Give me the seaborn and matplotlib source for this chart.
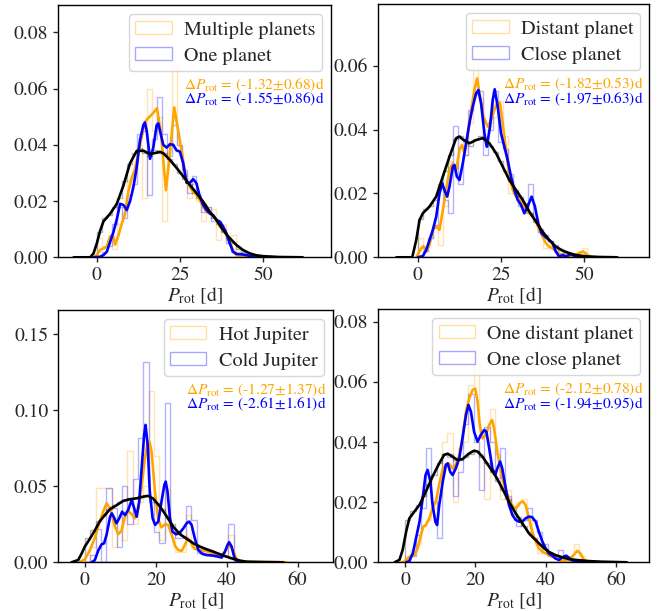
import numpy as np
import pandas as pd
import matplotlib
matplotlib.use("Agg")
import matplotlib.pyplot as plt
from matplotlib.patches import Patch
from matplotlib.colors import to_rgba
import seaborn as sns

# ---------------- data ----------------
edges_sub = np.arange(0, 51.01, 1.5)    # 34 bins for the sub-samples
edges_jup = np.arange(0, 45.01, 1.5)    # 30 bins for the Jupiter sub-samples
edges_all = np.arange(0, 60.01, 1.5)    # 40 bins for the comparison sample

# Panel 1: Multiple planets (orange) vs One planet (blue)
p1_orange_hist = [0.007, 0.004, 0.006, 0.003, 0.012, 0.016, 0.027, 0.030, 0.040, 0.021,
                  0.060, 0.045, 0.050, 0.013, 0.040, 0.068, 0.040, 0.030, 0.021, 0.026,
                  0.020, 0.013, 0.018, 0.017, 0.006, 0.012, 0.006, 0.008, 0.002, 0,
                  0, 0, 0, 0]
p1_blue_hist = [0, 0.002, 0.004, 0.012, 0.018, 0.014, 0.022, 0.026, 0.044, 0.045,
                0.022, 0.042, 0.057, 0.044, 0.036, 0.047, 0.040, 0.031, 0.023, 0.029,
                0.022, 0.016, 0.018, 0.013, 0.013, 0.010, 0.005, 0.002, 0.001, 0.001,
                0, 0, 0, 0]
p1_gray_hist = [0.009, 0.014, 0.015, 0.018, 0.021, 0.027, 0.033, 0.037, 0.039, 0.037,
                0.036, 0.038, 0.037, 0.037, 0.035, 0.033, 0.030, 0.028, 0.026, 0.023,
                0.021, 0.019, 0.016, 0.014, 0.012, 0.009, 0.007, 0.005, 0.003, 0.002,
                0.0015, 0.001, 0.0007, 0.0005, 0.0003, 0.0002, 0.0001, 0.0001, 0, 0.0001]
p1_orange_kde_x = [-1, 0, 1, 2, 3, 4, 4.8, 5.5, 6.5, 7.5, 8.4, 9.4, 10.4, 11.4, 12.4, 13.4, 14.4,
                   15.4, 16.9, 18.1, 19.3, 20.8, 21.8, 23.3, 24.8, 25.8, 27, 28, 29, 30, 31,
                   32, 33, 34, 35, 36, 37, 38, 39, 40, 41, 42, 43, 45, 50, 55]
p1_orange_kde_y = [0, 0.0008, 0.0026, 0.0032, 0.0038, 0.0075, 0.0079, 0.0045, 0.0078, 0.012,
                   0.015, 0.0228, 0.028, 0.031, 0.0364, 0.0423, 0.048, 0.0494, 0.0512, 0.053,
                   0.0441, 0.0239, 0.0346, 0.0533, 0.0429, 0.0358, 0.0269, 0.0251, 0.0233,
                   0.0222, 0.0204, 0.018, 0.0162, 0.0156, 0.0145, 0.0133, 0.011, 0.0097,
                   0.008, 0.0056, 0.0026, 0.0008, 0.0002, 0.0001, 0, 0]
p1_blue_kde_x = [-1, 1, 2, 3, 4, 5, 6, 7, 8, 9, 10, 11, 12, 13, 14, 14.5, 15, 16, 17, 18, 18.5,
                 19, 20, 21, 22, 23, 24, 25, 26, 27, 28, 29, 30, 31, 32, 33, 34, 35, 36, 37,
                 38, 39, 40, 41, 42, 44, 46, 48, 50]
p1_blue_kde_y = [0, 0.0002, 0.0008, 0.002, 0.0055, 0.009, 0.0135, 0.019, 0.0186, 0.0168, 0.020,
                 0.025, 0.032, 0.0417, 0.047, 0.0479, 0.045, 0.035, 0.039, 0.047, 0.0476,
                 0.045, 0.040, 0.039, 0.0402, 0.040, 0.038, 0.0376, 0.0334, 0.0265, 0.0265,
                 0.0278, 0.0263, 0.0216, 0.0186, 0.0168, 0.0156, 0.015, 0.0133, 0.0127,
                 0.011, 0.0085, 0.005, 0.002, 0.0012, 0.001, 0.0005, 0.0001, 0]
p1_black_kde_x = [-7, -2, -1, 0, 1, 2, 4, 6, 8, 10, 12, 14, 16, 18, 19, 20, 22, 24, 26, 28, 30,
                  32, 34, 36, 38, 40, 42, 44, 46, 48, 50, 55, 62]
p1_black_kde_y = [0, 0, 0.0014, 0.005, 0.0095, 0.0128, 0.0155, 0.019, 0.0255, 0.0335, 0.0378,
                  0.0379, 0.0367, 0.0372, 0.0375, 0.037, 0.0346, 0.0318, 0.0288, 0.0257,
                  0.0228, 0.0198, 0.0162, 0.0133, 0.0097, 0.0068, 0.0044, 0.0026, 0.0014,
                  0.0007, 0.0004, 0.0001, 0]

# Panel 2: Distant planet (orange) vs Close planet (blue)
p2_orange_hist = [0.006, 0.002, 0.006, 0.010, 0.004, 0.016, 0.030, 0.028, 0.035, 0.032,
                  0.042, 0.062, 0.050, 0.040, 0.042, 0.044, 0.049, 0.038, 0.020, 0.020,
                  0.018, 0.016, 0.014, 0.012, 0.008, 0.003, 0.004, 0.003, 0.002, 0,
                  0, 0, 0.002, 0.003]
p2_blue_hist = [0, 0.002, 0.006, 0.010, 0.022, 0.018, 0.014, 0.041, 0.023, 0.032,
                0.046, 0.051, 0.052, 0.032, 0.040, 0.052, 0.036, 0.034, 0.026, 0.020,
                0.016, 0.014, 0.023, 0.012, 0.008, 0.006, 0.005, 0.004, 0, 0.001,
                0.001, 0, 0, 0]
p2_gray_hist = [0.012, 0.015, 0.016, 0.018, 0.023, 0.027, 0.032, 0.037, 0.038, 0.036,
                0.035, 0.037, 0.038, 0.037, 0.035, 0.033, 0.030, 0.027, 0.024, 0.021,
                0.019, 0.017, 0.014, 0.011, 0.009, 0.007, 0.005, 0.0035, 0.0025, 0.0015,
                0.0012, 0.0008, 0.0005, 0.0004, 0.0002, 0.0001, 0.0001, 0, 0, 0]
p2_orange_kde_x = [-0.5, 1, 1.7, 2.5, 3.5, 4.5, 5.5, 6.5, 7.5, 8.5, 9.5, 10.5, 11.5, 12.5, 13.3,
                   14, 15, 16, 17, 17.8, 18.7, 19.7, 21, 22, 23, 24, 24.7, 25.5, 26.5, 27.5,
                   28.5, 29.5, 30.5, 31.5, 32.5, 33.5, 34.5, 35.5, 36.5, 37.5, 38.5, 39.5,
                   40.5, 41.5, 42.5, 44.5, 46.5, 48.5, 49.7, 51, 52.5]
p2_orange_kde_y = [0, 0.0028, 0.0035, 0.0018, 0.0039, 0.0086, 0.0096, 0.0086, 0.0148, 0.0211,
                   0.0273, 0.0294, 0.0273, 0.0336, 0.0352, 0.0326, 0.0388, 0.0461, 0.0524,
                   0.056, 0.0503, 0.044, 0.0409, 0.043, 0.0461, 0.0487, 0.0482, 0.042,
                   0.0336, 0.0253, 0.0211, 0.019, 0.018, 0.0169, 0.0148, 0.0138, 0.0127,
                   0.0112, 0.0086, 0.0065, 0.0044, 0.0033, 0.0028, 0.0018, 0.001, 0.0006,
                   0.0004, 0.0013, 0.0018, 0.0007, 0]
p2_blue_kde_x = [0, 1.5, 2.5, 3.5, 4.5, 5.5, 6.5, 7.3, 8, 8.8, 9.5, 10.5, 11, 11.7, 12.5, 13.5,
                 14.5, 15.5, 16.5, 17.5, 18.2, 19, 20, 20.7, 21.7, 22.5, 23.1, 24, 25, 26, 27,
                 28, 29, 30, 31, 32, 33, 34.2, 35.2, 36.2, 37.2, 38.2, 39.5, 40.5, 41.5, 42.5,
                 43.5, 44.5, 46, 47.5, 49.5]
p2_blue_kde_y = [0, 0.0004, 0.0023, 0.0054, 0.0086, 0.0127, 0.02, 0.0232, 0.021, 0.019, 0.0221,
                 0.0284, 0.0289, 0.0253, 0.0242, 0.0294, 0.0357, 0.042, 0.0472, 0.0513,
                 0.0524, 0.0482, 0.0388, 0.0346, 0.0409, 0.0493, 0.0526, 0.0472, 0.0388,
                 0.0346, 0.0305, 0.0253, 0.0211, 0.018, 0.0164, 0.0138, 0.0159, 0.019,
                 0.0159, 0.0106, 0.0075, 0.0065, 0.0054, 0.0044, 0.0018, 0.0002, 0.0007,
                 0.0002, 0.001, 0.0002, 0]
p2_black_kde_x = [-6.5, -1.7, -0.5, 0.5, 1.5, 3.5, 5.5, 7.5, 9.5, 11.5, 12.5, 13.5, 15.5, 17.5,
                  19.5, 21.5, 23.5, 25.5, 27.5, 29.5, 31.5, 33.5, 35.5, 37.5, 39.5, 41.5,
                  43.5, 45.5, 47.5, 50.5, 54.5, 60]
p2_black_kde_y = [0, 0, 0.0054, 0.0117, 0.0138, 0.0159, 0.019, 0.0253, 0.0315, 0.0373, 0.0378,
                  0.0369, 0.0357, 0.0367, 0.0373, 0.0357, 0.0326, 0.0284, 0.0242, 0.0211,
                  0.018, 0.0143, 0.0112, 0.008, 0.0054, 0.0033, 0.0021, 0.0013, 0.0007,
                  0.0003, 0.0001, 0]

# Panel 3: Hot Jupiter (orange) vs Cold Jupiter (blue)
p3_orange_hist = [0, 0.010, 0.049, 0.049, 0.049, 0.010, 0.030, 0.015, 0.073, 0.025,
                  0.040, 0.050, 0.113, 0.070, 0.015, 0.048, 0.020, 0.007, 0.007, 0.031,
                  0.010, 0.010, 0.008, 0.006, 0.006, 0.004, 0.004, 0.018, 0, 0]
p3_blue_hist = [0, 0.005, 0.022, 0, 0.049, 0.036, 0.010, 0.050, 0.025, 0.055,
                0.082, 0.132, 0.040, 0.020, 0.013, 0.105, 0.020, 0.016, 0.016, 0.037,
                0.028, 0.006, 0.005, 0.005, 0.004, 0.004, 0.004, 0.025, 0, 0]
p3_gray_hist = [0.016, 0.021, 0.027, 0.031, 0.035, 0.038, 0.040, 0.041, 0.042, 0.042,
                0.043, 0.044, 0.043, 0.039, 0.035, 0.030, 0.025, 0.020, 0.017, 0.015,
                0.012, 0.010, 0.009, 0.008, 0.006, 0.005, 0.004, 0.003, 0.002, 0.001,
                0.0005, 0.0002, 0.0002, 0.0001, 0.0001, 0, 0, 0, 0, 0]
p3_orange_kde_x = [-1.5, 0, 1.4, 2.8, 4.2, 5.6, 6.1, 7.1, 8.5, 9.4, 10.3, 11.3, 12.2, 13.2, 14.1,
                   15.1, 16, 16.9, 17.6, 18.2, 18.8, 19.8, 20.7, 21.6, 22.6, 23.5, 24.5, 25.4,
                   26.3, 27.3, 28.2, 29, 29.8, 30.8, 32, 33.4, 34.8, 36.2, 37.6, 38.6, 39.5,
                   40.5, 40.9, 41.9, 42.8, 43.7, 45.6, 49.4, 57]
p3_orange_kde_y = [0, 0.002, 0.008, 0.016, 0.027, 0.036, 0.0388, 0.0355, 0.0235, 0.0185,
                   0.0207, 0.030, 0.0338, 0.0316, 0.029, 0.0355, 0.050, 0.068, 0.0775, 0.0794,
                   0.0728, 0.0455, 0.028, 0.023, 0.0251, 0.0246, 0.018, 0.0109, 0.0081,
                   0.0075, 0.0114, 0.0158, 0.0136, 0.0092, 0.0081, 0.0077, 0.007, 0.0059,
                   0.0053, 0.0048, 0.007, 0.0103, 0.0118, 0.007, 0.0022, 0.0009, 0.0004,
                   0.0002, 0]
p3_blue_kde_x = [1.9, 2.8, 3.8, 4.7, 5.4, 6.1, 7.1, 7.6, 8.3, 8.9, 9.7, 10.5, 11.3, 12.2, 13.2,
                 13.9, 14.6, 15.3, 16, 16.7, 17.1, 17.7, 18.3, 19.1, 19.8, 20.7, 21.6, 22.4,
                 22.8, 23.3, 24, 24.7, 25.7, 26.6, 27.8, 28.7, 29.4, 30.1, 31, 32, 32.9, 34.3,
                 36.2, 37.6, 38.6, 39.5, 40.3, 40.7, 41.4, 42.1, 42.8, 44.7]
p3_blue_kde_y = [0, 0.0015, 0.008, 0.0118, 0.0125, 0.018, 0.03, 0.0322, 0.029, 0.0257, 0.029,
                 0.0333, 0.0311, 0.0344, 0.041, 0.0355, 0.03, 0.0399, 0.0618, 0.0838, 0.0904,
                 0.0772, 0.0465, 0.029, 0.0246, 0.0268, 0.0399, 0.0509, 0.0531, 0.0465,
                 0.029, 0.0202, 0.0184, 0.0191, 0.0224, 0.0257, 0.0268, 0.0246, 0.0158,
                 0.0081, 0.0059, 0.0048, 0.0044, 0.0037, 0.0031, 0.007, 0.0118, 0.0132,
                 0.0103, 0.0037, 0.0009, 0]
p3_black_kde_x = [-3.8, -1.9, -0.9, 0, 1.4, 2.8, 4.2, 5.6, 7.1, 8.9, 10.8, 12.7, 14.6, 16.5,
                  17.9, 19.3, 21.2, 23, 24.9, 26.8, 28.7, 30.6, 32.5, 34.3, 36.2, 38.1, 40,
                  41.9, 43.7, 45.6, 49.4, 56]
p3_black_kde_y = [0, 0.0015, 0.0059, 0.0105, 0.0155, 0.021, 0.027, 0.031, 0.035, 0.0375,
                  0.0404, 0.0415, 0.0421, 0.0432, 0.0437, 0.0418, 0.0366, 0.0305, 0.0235,
                  0.0185, 0.0155, 0.0125, 0.0103, 0.0086, 0.007, 0.0053, 0.0037, 0.0022,
                  0.0011, 0.0004, 0.0002, 0]

# Panel 4: One distant planet (orange) vs One close planet (blue)
p4_orange_hist = [0.002, 0.004, 0.006, 0.012, 0.014, 0.018, 0.022, 0.040, 0.043, 0.020,
                  0.038, 0.040, 0.059, 0.066, 0.036, 0.021, 0.051, 0.036, 0.021, 0.024,
                  0.018, 0.020, 0.021, 0.014, 0.008, 0.003, 0.004, 0.002, 0.002, 0,
                  0, 0.002, 0.006, 0.002]
p4_blue_hist = [0, 0.002, 0.009, 0.018, 0.038, 0.020, 0.008, 0.036, 0.035, 0.022,
                0.030, 0.046, 0.056, 0.040, 0.024, 0.045, 0.040, 0.028, 0.038, 0.022,
                0.016, 0.012, 0.014, 0.018, 0.014, 0.010, 0.006, 0.002, 0.002, 0.004,
                0.002, 0, 0, 0]
p4_gray_hist = [0.014, 0.017, 0.019, 0.022, 0.026, 0.029, 0.033, 0.036, 0.036, 0.034,
                0.034, 0.035, 0.036, 0.037, 0.035, 0.033, 0.030, 0.027, 0.024, 0.021,
                0.018, 0.015, 0.012, 0.010, 0.008, 0.006, 0.0045, 0.003, 0.0025, 0.0018,
                0.0012, 0.001, 0.0008, 0.0005, 0.0003, 0.0002, 0.0001, 0.0001, 0, 0]
p4_orange_kde_x = [-1.1, -0.2, 0.8, 1.7, 2.6, 3.6, 4.5, 5.2, 5.9, 6.9, 7.8, 8.8, 9.7, 10.7, 11.6,
                   12.5, 13.5, 14.4, 15.4, 16.3, 17.3, 18.2, 19.2, 19.9, 20.6, 21.2, 22, 22.9,
                   23.9, 24.7, 25.3, 26.2, 27.2, 28.1, 29.1, 30, 31, 31.9, 32.8, 33.5, 34.2,
                   35.2, 36.1, 37.1, 38, 39, 39.9, 40.8, 41.8, 42.7, 43.7, 44.6, 46.5, 47.9,
                   48.9, 49.8, 50.8, 52.2]
p4_orange_kde_y = [0, 0.0002, 0.0013, 0.0022, 0.0022, 0.0047, 0.0091, 0.0119, 0.0124, 0.0146,
                   0.018, 0.0205, 0.026, 0.031, 0.0325, 0.0328, 0.0312, 0.0324, 0.0357,
                   0.0412, 0.0501, 0.0545, 0.0573, 0.0578, 0.0534, 0.0457, 0.0412, 0.0423,
                   0.0457, 0.0473, 0.0445, 0.0368, 0.0301, 0.0257, 0.0224, 0.0196, 0.018,
                   0.0185, 0.0199, 0.0202, 0.0191, 0.0146, 0.0102, 0.0069, 0.0047, 0.0035,
                   0.003, 0.0024, 0.0019, 0.0013, 0.0008, 0.0004, 0.0008, 0.0024, 0.0038,
                   0.003, 0.0008, 0]
p4_blue_kde_x = [0.3, 1.2, 2.2, 3.1, 4.1, 5, 5.8, 6.4, 7.2, 7.8, 8.6, 9.1, 9.7, 10.7, 11.6, 12.1,
                 12.8, 13.5, 14.4, 15.4, 16.3, 17.3, 18, 18.7, 19.6, 20.6, 21.5, 22.5, 23.1,
                 23.9, 24.8, 25.6, 26.2, 27, 27.6, 28.6, 29.5, 30.5, 31.4, 32.4, 33.3, 34.2,
                 35.2, 36.1, 37.1, 38, 39, 39.9, 40.8, 41.8, 42.7, 43.7, 45.1, 45.8, 46.5,
                 47.5, 49.3, 51.2]
p4_blue_kde_y = [0, 0.0004, 0.003, 0.008, 0.0135, 0.0213, 0.029, 0.0307, 0.0268, 0.0191,
                 0.0135, 0.0124, 0.0191, 0.0268, 0.0324, 0.0329, 0.0301, 0.029, 0.0312,
                 0.0346, 0.0412, 0.049, 0.0523, 0.0501, 0.0434, 0.0401, 0.0423, 0.044,
                 0.0434, 0.0379, 0.0312, 0.029, 0.0312, 0.0335, 0.0312, 0.0246, 0.0191,
                 0.0157, 0.0141, 0.0135, 0.0135, 0.0146, 0.0152, 0.015, 0.0135, 0.0102,
                 0.0069, 0.0047, 0.003, 0.0022, 0.0013, 0.0008, 0.0019, 0.0022, 0.0015,
                 0.0006, 0.0002, 0]
p4_black_kde_x = [-3, -1.6, -0.7, 0.3, 1.2, 2.6, 4.1, 5.9, 7.8, 9.7, 11.1, 12.1, 13.5, 14.9,
                  16.3, 18.2, 19.6, 20.6, 22, 23.9, 25.8, 27.6, 29.5, 31.4, 33.3, 35.2, 37.1,
                  39, 40.8, 42.7, 44.6, 46.5, 48.4, 52.2, 55.9, 59.6, 63]
p4_black_kde_y = [0, 0.0008, 0.0041, 0.0102, 0.0146, 0.0168, 0.0191, 0.0235, 0.0285, 0.0329,
                  0.0357, 0.0361, 0.0351, 0.034, 0.0343, 0.0362, 0.0371, 0.0368, 0.0351,
                  0.0318, 0.0285, 0.0246, 0.0202, 0.0163, 0.013, 0.0096, 0.0074, 0.0052,
                  0.0035, 0.0024, 0.0017, 0.0011, 0.0008, 0.0004, 0.0002, 0.0001, 0]

labels_p1 = ["Multiple planets", "One planet"]
labels_p2 = ["Distant planet", "Close planet"]
labels_p3 = ["Hot Jupiter", "Cold Jupiter"]
labels_p4 = ["One distant planet", "One close planet"]
delta_p1 = ["(-1.32\u00b10.68)d", "(-1.55\u00b10.86)d"]
delta_p2 = ["(-1.82\u00b10.53)d", "(-1.97\u00b10.63)d"]
delta_p3 = ["(-1.27\u00b11.37)d", "(-2.61\u00b11.61)d"]
delta_p4 = ["(-2.12\u00b10.78)d", "(-1.94\u00b10.95)d"]

# ---------------- style ----------------
sns.set_style("ticks")
plt.rcParams["font.family"] = ["STIXGeneral", "DejaVu Serif"]
plt.rcParams["mathtext.fontset"] = "stix"
plt.rcParams["xtick.direction"] = "out"
plt.rcParams["ytick.direction"] = "out"
plt.rcParams["axes.edgecolor"] = "black"
plt.rcParams["axes.linewidth"] = 1.0

fig = plt.figure(figsize=(6.72, 6.11), dpi=100)

positions = [
    [58 / 672, 1 - 257.3 / 611, 273 / 672, 252.3 / 611],
    [378 / 672, 1 - 257.3 / 611, 271 / 672, 253.3 / 611],
    [58 / 672, 1 - 562.3 / 611, 275 / 672, 252.3 / 611],
    [378 / 672, 1 - 562.3 / 611, 271 / 672, 253.3 / 611],
]
xlims = [(-11.7, 70.5), (-12, 69.5), (-7.6, 70), (-7.7, 69.3)]
ylims = [(0, 0.0897), (0, 0.0793), (0, 0.166), (0, 0.0842)]
xticks = [[0, 25, 50], [0, 25, 50], [0, 20, 40, 60], [0, 20, 40, 60]]
yticks = [[0, 0.02, 0.04, 0.06, 0.08], [0, 0.02, 0.04, 0.06],
          [0, 0.05, 0.10, 0.15], [0, 0.02, 0.04, 0.06, 0.08]]

panels = [
    (edges_sub, p1_orange_hist, p1_blue_hist, p1_gray_hist,
     p1_orange_kde_x, p1_orange_kde_y, p1_blue_kde_x, p1_blue_kde_y,
     p1_black_kde_x, p1_black_kde_y, labels_p1, delta_p1),
    (edges_sub, p2_orange_hist, p2_blue_hist, p2_gray_hist,
     p2_orange_kde_x, p2_orange_kde_y, p2_blue_kde_x, p2_blue_kde_y,
     p2_black_kde_x, p2_black_kde_y, labels_p2, delta_p2),
    (edges_jup, p3_orange_hist, p3_blue_hist, p3_gray_hist,
     p3_orange_kde_x, p3_orange_kde_y, p3_blue_kde_x, p3_blue_kde_y,
     p3_black_kde_x, p3_black_kde_y, labels_p3, delta_p3),
    (edges_sub, p4_orange_hist, p4_blue_hist, p4_gray_hist,
     p4_orange_kde_x, p4_orange_kde_y, p4_blue_kde_x, p4_blue_kde_y,
     p4_black_kde_x, p4_black_kde_y, labels_p4, delta_p4),
]

ORANGE = "orange"
BLUE = "blue"
HIST_ALPHA = 0.3


def draw_hist(ax, edges, heights, color):
    edges = [float(e) for e in edges]
    centers = [0.5 * (a + b) for a, b in zip(edges[:-1], edges[1:])]
    df = pd.DataFrame({"p": centers, "w": [float(h) for h in heights]})
    sns.histplot(data=df, x="p", weights="w", bins=edges, element="step", fill=True,
                 color=color, facecolor="none", edgecolor=to_rgba(color, HIST_ALPHA),
                 linewidth=1.0, ax=ax)


def draw_kde(ax, xs, ys, color):
    df = pd.DataFrame({"p": xs, "d": ys})
    sns.lineplot(data=df, x="p", y="d", color=color, linewidth=1.9, ax=ax)


for i, (edges, oh, bh, gh, ox, oy, bx, by, kx, ky, labels, deltas) in enumerate(panels):
    ax = fig.add_axes(positions[i])
    draw_hist(ax, edges, oh, ORANGE)
    draw_hist(ax, edges, bh, BLUE)
    draw_hist(ax, edges_all, gh, "black")
    draw_kde(ax, ox, oy, ORANGE)
    draw_kde(ax, bx, by, BLUE)
    draw_kde(ax, kx, ky, "black")

    ax.set_xlim(*xlims[i])
    ax.set_ylim(*ylims[i])
    ax.set_xticks(xticks[i])
    ax.set_yticks(yticks[i])
    ax.set_yticklabels(["{:.2f}".format(v) for v in yticks[i]])
    ax.set_ylabel("")
    ax.set_xlabel(r"$P_\mathrm{rot}$ [d]", fontsize=14, labelpad=1)
    ax.tick_params(labelsize=14, length=3.5, width=1.0)
    for s in ax.spines.values():
        s.set_visible(True)
        s.set_color("black")

    handles = [Patch(facecolor="none", edgecolor=to_rgba(ORANGE, 0.35), linewidth=1.0),
               Patch(facecolor="none", edgecolor=to_rgba(BLUE, 0.35), linewidth=1.0)]
    ax.legend(handles=handles, labels=labels, loc="upper right", fontsize=14.5,
              borderaxespad=0.45, labelspacing=0.42, borderpad=0.33, handletextpad=0.6,
              handlelength=1.8, handleheight=0.65)

    ax.text(0.978, 0.683, r"$\Delta P_\mathrm{rot}$ = " + deltas[0], transform=ax.transAxes,
            ha="right", va="center", color=ORANGE, fontsize=11.1)
    ax.text(0.978, 0.625, r"$\Delta P_\mathrm{rot}$ = " + deltas[1], transform=ax.transAxes,
            ha="right", va="center", color=BLUE, fontsize=11.1)

fig.savefig("out.png", dpi=100)
